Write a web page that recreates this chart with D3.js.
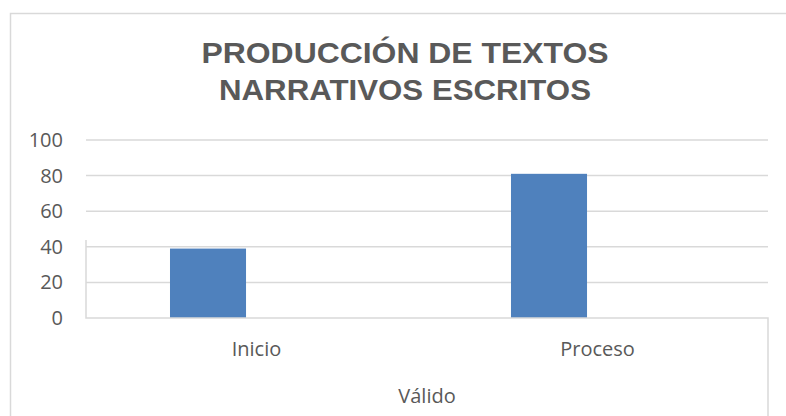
<!DOCTYPE html>
<html>
<head>
<meta charset="utf-8">
<script src="https://cdn.jsdelivr.net/npm/d3@7"></script>
<style>
  body { margin: 0; background: #fff; }
  svg { display: block; }
</style>
</head>
<body>
<div id="chart"></div>
<script>
// data
const titleLines = ["PRODUCCIÓN DE TEXTOS", "NARRATIVOS ESCRITOS"];
const titleWidths = [407, 372];
const categories = ["Inicio", "Proceso"];
const values = [39, 81];
const groupLabel = "Válido";
const yTicks = [0, 20, 40, 60, 80, 100];

const W = 786, H = 416;
const margin = {top: 140, right: 18, bottom: 98, left: 86};
const width = W - margin.left - margin.right,
    height = H - margin.top - margin.bottom;

const svg = d3.select("#chart")
    .append("svg")
    .attr("width", W)
    .attr("height", H);

// chart frame (cut by the picture edge on right and bottom)
svg.append("path")
    .attr("d", "M10.5," + H + "V13.5H" + W)
    .attr("fill", "none")
    .attr("stroke", "#d9d9d9")
    .attr("stroke-width", 1.5);

// title
svg.append("g")
    .selectAll("text")
    .data(titleLines)
    .enter().append("text")
    .attr("x", 405)
    .attr("y", (d, i) => 63 + i * 37)
    .attr("text-anchor", "middle")
    .attr("textLength", (d, i) => titleWidths[i])
    .attr("lengthAdjust", "spacingAndGlyphs")
    .attr("font-family", "'Liberation Sans', Arial, sans-serif")
    .attr("font-weight", "bold")
    .attr("font-size", 30)
    .attr("fill", "#595959")
    .text(d => d);

const g = svg.append("g")
    .attr("transform", "translate(" + margin.left + "," + margin.top + ")");

const x = d3.scaleBand()
    .domain(categories)
    .range([0, width]);
// bars sit left of the category centre, like a two-series cluster with one empty series
const x1 = d3.scaleBand()
    .domain(["valor", "vacío"])
    .range([0, x.bandwidth()])
    .paddingInner(0.216)
    .paddingOuter(0.866);
const y = d3.scaleLinear()
    .domain([0, 100])
    .range([height, 0]);

// gridlines
g.append("g")
    .selectAll("line")
    .data(yTicks.slice(1))
    .enter().append("line")
    .attr("x1", 0)
    .attr("x2", width)
    .attr("y1", d => y(d))
    .attr("y2", d => y(d))
    .attr("stroke", "#d9d9d9")
    .attr("stroke-width", 1.5);

// y labels
const yAxis = g.append("g")
    .attr("transform", "translate(-23,0)")
    .call(d3.axisLeft(y).tickValues(yTicks).tickSize(0).tickPadding(0));
yAxis.select(".domain").remove();
yAxis.selectAll("text")
    .attr("font-family", "'Open Sans', sans-serif")
    .attr("font-size", 20)
    .attr("fill", "#595959");

// bars
g.selectAll(".bar")
    .data(values)
    .enter().append("rect")
    .attr("class", "bar")
    .attr("x", (d, i) => x(categories[i]) + x1("valor"))
    .attr("width", x1.bandwidth())
    .attr("y", d => y(d))
    .attr("height", d => height - y(d))
    .attr("fill", "#4f81bd");

// category axis box (multi level)
g.append("path")
    .attr("d", "M0," + (margin.bottom + 2) + "V" + height + "H" + width + "V" + (height + margin.bottom + 2))
    .attr("fill", "none")
    .attr("stroke", "#d9d9d9")
    .attr("stroke-width", 1.5);

const xAxis = g.append("g")
    .attr("transform", "translate(0," + height + ")")
    .call(d3.axisBottom(x).tickSize(0).tickPadding(0));
xAxis.select(".domain").remove();
xAxis.selectAll("text")
    .attr("dy", 0)
    .attr("y", 38)
    .attr("font-family", "'Open Sans', sans-serif")
    .attr("font-size", 20)
    .attr("fill", "#595959");

g.append("text")
    .attr("x", width / 2)
    .attr("y", height + 85)
    .attr("text-anchor", "middle")
    .attr("font-family", "'Open Sans', sans-serif")
    .attr("font-size", 20)
    .attr("fill", "#595959")
    .text(groupLabel);
</script>
</body>
</html>
